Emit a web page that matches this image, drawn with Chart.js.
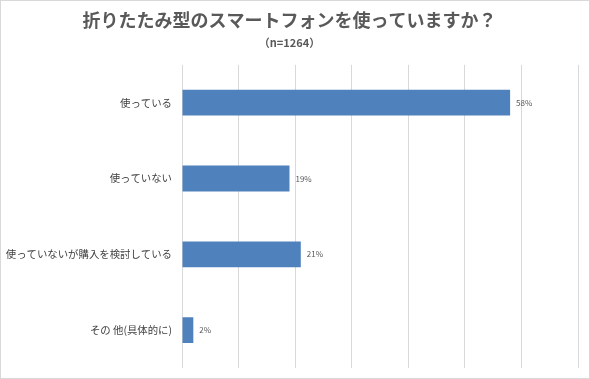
<!DOCTYPE html>
<html><head><meta charset="utf-8">
<script src="https://cdn.jsdelivr.net/npm/chart.js@4/dist/chart.umd.min.js"></script>
<style>
html,body{margin:0;padding:0;background:#fff;}
#wrap{width:590px;height:379px;box-sizing:border-box;border:1px solid #d9d9d9;position:relative;}
canvas{display:block;}
</style></head>
<body><div id="wrap"><canvas id="c" width="588" height="377"></canvas></div>
<script>
const categories = ["使っている", "使っていない", "使っていないが購入を検討している", "その 他(具体的に)"];
const values = [58, 19, 21, 2];
const titleText = "折りたたみ型のスマートフォンを使っていますか？";
const subtitleText = "（n=1264）";
const xMax = 70;
const xStep = 10;

const FONT = "'Noto Sans CJK JP', 'Noto Sans', sans-serif";

const valueLabels = {
  id: 'valueLabels',
  afterDatasetsDraw(chart) {
    const ctx = chart.ctx;
    const meta = chart.getDatasetMeta(0);
    ctx.save();
    ctx.font = "8px " + FONT;
    ctx.fillStyle = "#595959";
    ctx.textAlign = "left";
    ctx.textBaseline = "middle";
    meta.data.forEach((el, i) => {
      ctx.fillText(values[i] + "%", el.x + 6, el.y);
    });
    ctx.restore();
  }
};

new Chart(document.getElementById('c'), {
  type: 'bar',
  data: {
    labels: categories,
    datasets: [{
      data: values,
      backgroundColor: '#4F81BD',
      borderWidth: 0,
      barPercentage: 0.68,
      categoryPercentage: 0.5
    }]
  },
  options: {
    indexAxis: 'y',
    responsive: false,
    animation: false,
    layout: { padding: { left: 0, right: 11, top: 0, bottom: 10 } },
    plugins: {
      legend: { display: false },
      tooltip: { enabled: false },
      title: {
        display: true, text: titleText, color: '#595959',
        font: { family: FONT, size: 18, weight: 'bold' },
        padding: { top: 8, bottom: 3 }
      },
      subtitle: {
        display: true, text: subtitleText, color: '#595959',
        font: { family: FONT, size: 11, weight: 'bold' },
        padding: { top: 3, bottom: 15 }
      }
    },
    scales: {
      x: {
        min: 0, max: xMax,
        ticks: { display: false, stepSize: xStep },
        grid: { color: '#d9d9d9', lineWidth: 1, drawTicks: false },
        border: { display: false },
        afterFit(scale) { scale.height = 0; }
      },
      y: {
        ticks: { color: '#404040', font: { family: FONT, size: 10.4 }, padding: 10 },
        grid: { display: false, drawTicks: false },
        border: { display: false },
        afterFit(scale) { scale.width = 181; scale.paddingTop = 0; scale.paddingBottom = 0; }
      }
    }
  },
  plugins: [valueLabels]
});
</script></body></html>
